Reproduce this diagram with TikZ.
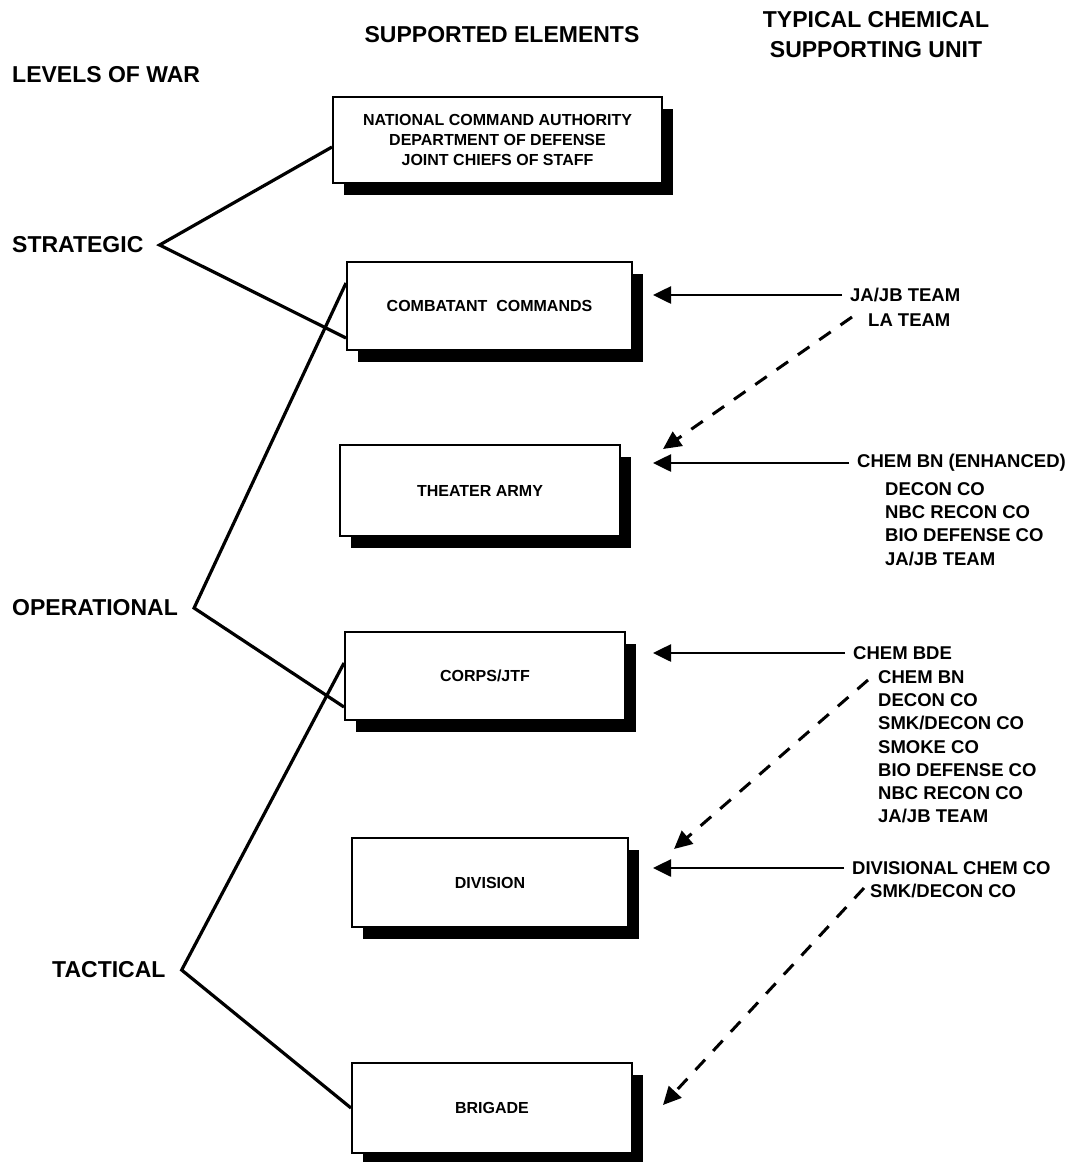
\documentclass[tikz,border=0pt]{standalone}
\usepackage{fontspec}
\setmainfont{Liberation Sans}
\usetikzlibrary{positioning}
\usetikzlibrary{arrows.meta}
\usetikzlibrary{shadows}
\tikzset{>={Triangle[length=18pt,width=17pt]}, % Filled heads as in the chart
echelon/.style={ % Boxes of the supported elements
draw, line width=2pt, fill=white,
minimum width=280pt, minimum height=88pt,
align=center, font=\bfseries\fontsize{16}{20}\selectfont,
drop shadow={shadow xshift=11pt, shadow yshift=-12pt, fill=black, opacity=1}},
warlevel/.style={inner sep=0pt, font=\bfseries\fontsize{23}{28}\selectfont},
header/.style={inner sep=0pt, align=center, font=\bfseries\fontsize{23}{30}\selectfont},
unitname/.style={inner xsep=4pt, inner ysep=0pt, font=\bfseries\fontsize{18.5}{23.3}\selectfont},
unitlist/.style={unitname, align=left},
tie/.style={line width=3.2pt}, % Level of war to its elements
feed/.style={->, line width=2.6pt, shorten <=4pt},
attach/.style={->, line width=3pt, dash pattern=on 14pt off 12pt}}

\begin{document}
\begin{tikzpicture}[x=1pt, y=-1pt]
\useasboundingbox (0,0) rectangle (1072,1162);

\node[header] (supported) at (502,35) {SUPPORTED ELEMENTS};
\node[header] (typical) at (876,35) {TYPICAL CHEMICAL\\SUPPORTING UNIT};
\node[warlevel, anchor=west] (levels) at (12,75) {LEVELS OF WAR};

% supported elements
\node[echelon, minimum width=329pt, minimum height=86pt] (nca) at (497.5,140) {NATIONAL COMMAND AUTHORITY\\DEPARTMENT OF DEFENSE\\JOINT CHIEFS OF STAFF};
\node[echelon, minimum width=285pt] (cc) at (489.5,306) {COMBATANT\ \ COMMANDS};
\node[echelon, minimum height=91pt] (ta) at (480,490.5) {THEATER ARMY};
\node[echelon] (corps) at (485,676) {CORPS/JTF};
\node[echelon, minimum width=276pt, minimum height=89pt] (div) at (490,882.5) {DIVISION};
\node[echelon, minimum height=90pt] (brig) at (492,1108) {BRIGADE};

% levels of war
\node[warlevel, anchor=west] (strat) at (12,245) {STRATEGIC};
\node[warlevel, anchor=west] (oper) at (12,608) {OPERATIONAL};
\node[warlevel, anchor=west] (tact) at (52,970) {TACTICAL};
\coordinate (strat-v) at ([xshift=16pt]strat.east);
\coordinate (oper-v) at ([xshift=16pt]oper.east);
\coordinate (tact-v) at ([xshift=16pt]tact.east);

\draw[tie] ([yshift=-7pt]nca.west) -- (strat-v) -- ([yshift=-32pt]cc.west);
\draw[tie] ([yshift=23pt]cc.west) -- (oper-v) -- ([yshift=-31pt]corps.west);
\draw[tie] ([yshift=13pt]corps.west) -- (tact-v) -- (brig.west);

% supporting units
\node[unitname, anchor=west] (jajb) at (846,295) {JA/JB TEAM};
\node[unitname, anchor=west] (la) at (864,320) {LA TEAM};
\node[unitname, anchor=west] (bne) at (853,463) {CHEM BN (ENHANCED)};
\node[unitlist, anchor=north west] (bnelist) at (881,482) {DECON CO\\NBC RECON CO\\BIO DEFENSE CO\\JA/JB TEAM};
\node[unitname, anchor=west] (bde) at (849,653) {CHEM BDE};
\node[unitlist, anchor=north west] (bdelist) at (874,670) {CHEM BN\\DECON CO\\SMK/DECON CO\\SMOKE CO\\BIO DEFENSE CO\\NBC RECON CO\\JA/JB TEAM};
\node[unitname, anchor=west] (divco) at (848,868) {DIVISIONAL CHEM CO};
\node[unitname, anchor=west] (smk) at (866,891) {SMK/DECON CO};

\draw[feed, shorten >=20pt] (jajb.west) -- (cc.east |- jajb.west);
\draw[feed, shorten >=32pt] (bne.west) -- (ta.east |- bne.west);
\draw[feed, shorten >=27pt] (bde.west) -- (corps.east |- bde.west);
\draw[feed, shorten >=24pt] (divco.west) -- (div.east |- divco.west);

\coordinate (la-tail) at (852,317);
\coordinate (bn-tail) at (868,680);
\coordinate (smk-tail) at (864,888);
\draw[attach] (la-tail) -- ([shift={(42,5)}]ta.north east);
\draw[attach] (bn-tail) -- ([shift={(45,12)}]div.north east);
\draw[attach] (smk-tail) -- ([shift={(30,43)}]brig.north east);

\end{tikzpicture}
\end{document}
